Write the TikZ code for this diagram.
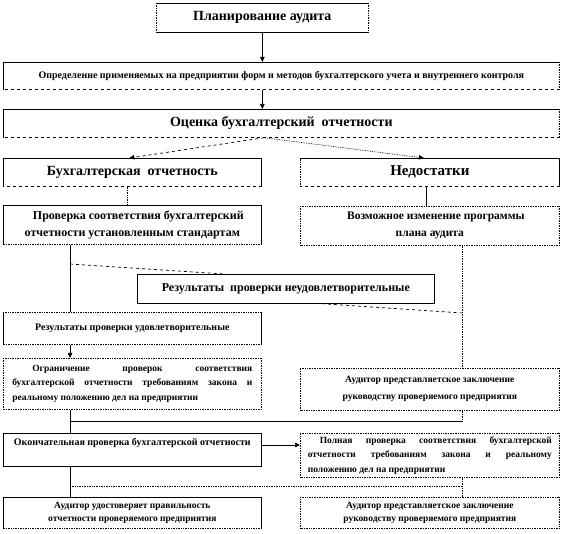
\documentclass[tikz,border=0pt]{standalone}
\usepackage{fontspec}
\setmainfont{Liberation Serif}
\usetikzlibrary{arrows.meta,calc}
\newcommand{\fs}[2]{\fontsize{#1}{#2}\selectfont\bfseries}
\newcommand{\jl}[2]{\makebox[#1][s]{#2}}
% edges of a box: node, left, top, right, bottom styles
\newcommand{\boxedges}[5]{%
  \draw[#2] (#1.south west) -- (#1.north west);
  \draw[#3] (#1.north west) -- (#1.north east);
  \draw[#4] (#1.north east) -- (#1.south east);
  \draw[#5] (#1.south east) -- (#1.south west);}
\begin{document}
\begin{tikzpicture}[x=1pt,y=-1pt,
  box/.style={line width=0.7pt,inner sep=0pt,anchor=north west,align=center},
  arr/.style={-{Triangle[length=5pt,width=4.5pt]},line width=0.7pt},
  ln/.style={line width=0.7pt},
  dln/.style={line width=0.7pt,densely dotted},
  dsh/.style={line width=0.7pt,dashed},
]
\useasboundingbox (0,0) rectangle (563,534);
\coordinate (xL) at (70,0);
\coordinate (xR) at (462,0);
% boxes
\node[box,minimum width=212pt,minimum height=29pt,font=\fs{14}{16}] (b1) at (156,3) {Планирование аудита};
\node[box,minimum width=556pt,minimum height=27pt,font=\fs{10}{12}] (b2) at (3,62) {Определение применяемых на предприятии форм и методов бухгалтерского учета и внутреннего контроля};
\node[box,minimum width=556pt,minimum height=28pt,font=\fs{14}{16}] (b3) at (3,109) {Оценка бухгалтерский\ \ отчетности};
\node[box,minimum width=258pt,minimum height=28pt,font=\fs{14}{16}] (buh) at (3,158) {Бухгалтерская\ \ отчетность};
\node[box,minimum width=259pt,minimum height=28pt,font=\fs{15}{16}] (ned) at (300,158) {Недостатки};
\node[box,minimum width=258pt,minimum height=39pt,font=\fs{12}{17}] (prov) at (3,205) {\hspace*{12pt}Проверка соответствия бухгалтерский\\отчетности установленным стандартам};
\node[box,minimum width=259pt,minimum height=39pt,font=\fs{11.5}{17}] (vozm) at (300,206) {\hspace*{12pt}Возможное изменение программы\\плана аудита};
\node[box,minimum width=297pt,minimum height=29pt,font=\fs{12}{14}] (neud) at (137,274) {Результаты\ \ проверки неудовлетворительные};
\node[box,minimum width=258pt,minimum height=32pt,font=\fs{10}{12}] (resu) at (3,312) {Результаты проверки удовлетворительные};
\node[box,minimum width=258pt,minimum height=51pt,font=\fs{9.5}{14.5},align=left] (ogr) at (3,358) {\jl{240pt}{\hspace*{20pt}Ограничение проверок соответствия}\\\jl{240pt}{бухгалтерской отчетности требованиям закона и}\\реальному положению дел на предприятии};
\node[box,minimum width=259pt,minimum height=42pt,font=\fs{9.6}{17}] (aud1) at (300,368) {Аудитор представляетское заключение\\руководству проверяемого предприятия};
\node[box,minimum width=258pt,text height=12pt,text depth=21pt,font=\fs{10}{12}] (okon) at (3,433) {Окончательная проверка бухгалтерской отчетности};
\node[box,minimum width=259pt,minimum height=44pt,font=\fs{9.5}{14.5},align=left] (poln) at (300,433) {\jl{244pt}{\hspace*{12pt}Полная проверка соответствия бухгалтерской}\\\jl{244pt}{отчетности требованиям закона и реальному}\\положению дел на предприятии};
\node[box,minimum width=258pt,minimum height=31pt,font=\fs{9.5}{13}] (bl) at (3,497) {Аудитор удостоверяет правильность\\отчетности проверяемого предприятия};
\node[box,minimum width=259pt,minimum height=31pt,font=\fs{9.5}{13}] (br) at (300,497) {Аудитор представляетское заключение\\руководству проверяемого предприятия};
% box borders
\boxedges{b1}{dln}{ln}{dln}{ln}
\boxedges{b2}{ln}{ln}{dln}{dsh}
\boxedges{b3}{ln}{ln}{dln}{dsh}
\boxedges{buh}{ln}{ln}{ln}{dsh}
\boxedges{ned}{dln}{ln}{ln}{dsh}
\boxedges{prov}{ln}{ln}{ln}{dln}
\boxedges{vozm}{dln}{dln}{dln}{dln}
\boxedges{neud}{ln}{ln}{ln}{ln}
\boxedges{resu}{ln}{dln}{ln}{dln}
\boxedges{ogr}{dln}{dln}{dln}{dln}
\boxedges{aud1}{dln}{dln}{dln}{dln}
\boxedges{okon}{ln}{ln}{ln}{ln}
\boxedges{poln}{dln}{dln}{dln}{dln}
\boxedges{bl}{ln}{ln}{ln}{dln}
\boxedges{br}{dln}{dln}{dln}{dln}
% connectors
\draw[arr] (b1.south) -- (b1.south |- b2.north);
\draw[arr] (b1.south |- b2.south) -- (b1.south |- b3.north);
\coordinate (fork) at ($(b3.south west)+(261,0)$);
\draw[arr,dashed] (fork) -- ($(buh.north)+(-3,0)$);
\draw[arr,densely dotted] (fork) -- ($(ned.north)+(-6,0)$);
\draw[dln] ($(buh.south)+(-5,0)$) -- ($(prov.north)+(-5,0)$);
\draw[ln] ($(ned.south)+(-4,0)$) -- ($(vozm.north)+(-4,0)$);
\draw[ln] (prov.south -| xL) -- (resu.north -| xL);
\coordinate (j1) at (70,264);
\draw[dsh] (j1) -- ($(neud.north west)+(87,0)$);
\draw[dln] (vozm.south -| xR) -- (aud1.north -| xR);
\coordinate (j2) at (462,313);
\draw[dsh] ($(neud.south west)+(185,0)$) -- (j2);
\draw[arr] (resu.south -| xL) -- (ogr.north -| xL);
\draw[ln] (ogr.south -| xL) -- (okon.north -| xL);
\coordinate (h1L) at (70,421);
\coordinate (h1R) at (462,421);
\draw[dln] (aud1.south -| xR) -- (h1R);
\draw[ln] (h1L) -- (h1R);
\coordinate (q) at ($(okon.north east)+(0,12)$);
\draw[arr] (q) -- (q -| poln.west);
\draw[ln] (okon.south -| xL) -- (bl.north -| xL);
\coordinate (h2L) at (70,486);
\coordinate (h2R) at (462,486);
\draw[dln] (h2L) -- (h2R);
\draw[dln] (poln.south -| xR) -- (br.north -| xR);
\end{tikzpicture}
\end{document}
